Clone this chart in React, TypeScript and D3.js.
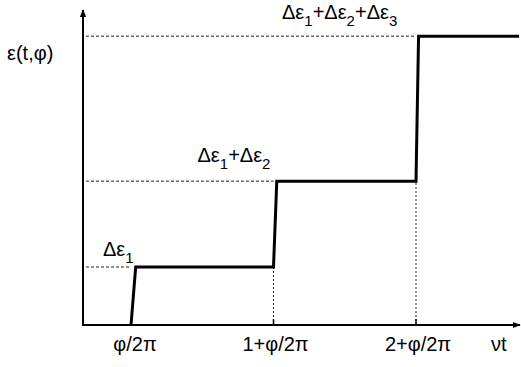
import React from "react";
import * as d3 from "d3";

// Phase-shifted staircase: each jump happens at n + φ/2π
const stepStarts = [0, 1, 2];
const stepEnds = [0.033, 1.023, 2.018];
const increments = [1, 1.48, 2.5];
const tickValues = [0, 1, 2];
const tickLabels = ["φ/2π", "1+φ/2π", "2+φ/2π"];
const levelLabels = [["1"], ["1", "2"], ["1", "2", "3"]];

const W = 521;
const H = 367;
const ORIGIN_X = 83;
const ORIGIN_Y = 325;
const FONT = "'Liberation Sans', Arial, Helvetica, sans-serif";
const FS = 20;
const SUB = 15;

export default function App() {
  const x = d3.scaleLinear().domain([0, 2]).range([131, 416]);
  const y = d3.scaleLinear().domain([0, 1]).range([ORIGIN_Y, ORIGIN_Y - 58]);
  const xMax = x.invert(519);

  const levels: number[] = Array.from(d3.cumsum(increments));
  const pts: [number, number][] = [];
  stepStarts.forEach((s, i) => {
    pts.push([s, i === 0 ? 0 : levels[i - 1]]);
    pts.push([stepEnds[i], levels[i]]);
  });
  pts.push([xMax, levels[levels.length - 1]]);

  const line = d3
    .line<[number, number]>()
    .x((d) => x(d[0]))
    .y((d) => y(d[1]));

  // label anchor: left edge relative to the start of the jump, baseline above the level
  const labelOffsets = [
    { dx: -28, dy: -11 },
    { dx: -76, dy: -19 },
    { dx: -134, dy: -17 },
  ];

  return (
    <svg
      width={W}
      height={H}
      style={{ position: "absolute", left: 0, top: 0, background: "#fff" }}
      fontFamily={FONT}
    >
      <defs>
        <marker
          id="arrow"
          viewBox="0 0 10 10"
          refX="9"
          refY="5"
          markerWidth="4"
          markerHeight="5"
          orient="auto"
          markerUnits="strokeWidth"
        >
          <path d="M0,1 L10,5 L0,9 Z" fill="#000" />
        </marker>
      </defs>

      {/* guide lines from the axis to each level */}
      {levels.map((lv, i) => (
        <line
          key={"h" + i}
          x1={ORIGIN_X + 3}
          x2={x(stepStarts[i])}
          y1={y(lv)}
          y2={y(lv)}
          stroke="#222"
          strokeWidth={1}
          strokeDasharray="3,2"
        />
      ))}
      {tickValues.slice(1).map((t, i) => (
        <line
          key={"v" + i}
          x1={x(t)}
          x2={x(t)}
          y1={ORIGIN_Y}
          y2={y(levels[i])}
          stroke="#222"
          strokeWidth={1}
          strokeDasharray="2,2"
        />
      ))}

      {/* axes */}
      <line
        x1={ORIGIN_X}
        x2={ORIGIN_X}
        y1={ORIGIN_Y + 1}
        y2={10}
        stroke="#000"
        strokeWidth={2}
        markerEnd="url(#arrow)"
      />
      <line
        x1={ORIGIN_X - 1}
        x2={520}
        y1={ORIGIN_Y}
        y2={ORIGIN_Y}
        stroke="#000"
        strokeWidth={2}
        markerEnd="url(#arrow)"
      />
      {tickValues.slice(1).map((t, i) => (
        <line
          key={"t" + i}
          x1={x(t)}
          x2={x(t)}
          y1={ORIGIN_Y}
          y2={ORIGIN_Y - 6}
          stroke="#000"
          strokeWidth={1.5}
        />
      ))}

      {/* staircase */}
      <path
        d={line(pts) ?? ""}
        fill="none"
        stroke="#000"
        strokeWidth={3}
        strokeLinejoin="miter"
      />

      {/* tick labels */}
      {tickValues.map((t, i) => (
        <text
          key={"tl" + i}
          x={x(t) + (i === 0 ? 4 : 2)}
          y={351}
          fontSize={FS}
          textAnchor="middle"
        >
          {tickLabels[i]}
        </text>
      ))}
      <text x={491} y={351} fontSize={FS}>
        νt
      </text>
      <text x={7} y={60} fontSize={FS}>
        ε(t,φ)
      </text>

      {/* level labels */}
      {levels.map((lv, i) => (
        <text
          key={"ll" + i}
          x={x(stepStarts[i]) + labelOffsets[i].dx}
          y={y(lv) + labelOffsets[i].dy}
          fontSize={FS}
        >
          {levelLabels[i].map((s, j) => (
            <React.Fragment key={j}>
              {j > 0 ? <tspan dy={-7}>+</tspan> : null}
              <tspan>Δε</tspan>
              <tspan fontSize={SUB} dy={7}>
                {s}
              </tspan>
            </React.Fragment>
          ))}
        </text>
      ))}
    </svg>
  );
}
